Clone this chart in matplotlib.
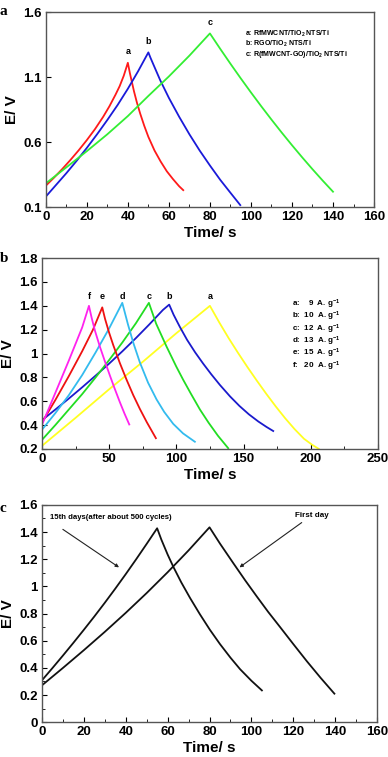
import matplotlib
matplotlib.use("Agg")
import matplotlib.pyplot as plt
from matplotlib.ticker import MultipleLocator

plt.rcParams['font.family'] = ['Liberation Sans', 'DejaVu Sans']
plt.rcParams['font.weight'] = 'bold'
plt.rcParams['mathtext.default'] = 'regular'

# ---- panel a: three electrodes ----
a_red_t = [0, 4, 8, 12, 16, 20, 24, 28, 31, 34, 36, 38, 40,
           41, 42, 43, 44.4, 46, 48, 50, 53, 56, 59, 62, 65, 67]
a_red_e = [0.264, 0.326, 0.392, 0.462, 0.536, 0.615, 0.70, 0.795, 0.875, 0.965, 1.03, 1.11, 1.21,
           1.13, 1.06, 0.99, 0.905, 0.82, 0.725, 0.64, 0.535, 0.45, 0.375, 0.315, 0.26, 0.23]
a_blue_t = [0, 5, 10, 15, 20, 25, 30, 35, 40, 45, 50,
            51, 52.5, 55.8, 60, 65, 70, 75, 80, 85, 90, 94.8]
a_blue_e = [0.18, 0.27, 0.36, 0.455, 0.555, 0.66, 0.77, 0.885, 1.01, 1.145, 1.29,
            1.25, 1.195, 1.075, 0.94, 0.795, 0.66, 0.535, 0.42, 0.31, 0.21, 0.115]
a_green_t = [0, 10, 20, 30, 40, 50, 60, 70, 80,
             85, 90, 95, 100, 105, 110, 115, 120, 125, 130, 135, 140]
a_green_e = [0.282, 0.405, 0.53, 0.66, 0.80, 0.955, 1.105, 1.265, 1.436,
             1.318, 1.203, 1.091, 0.982, 0.876, 0.773, 0.673, 0.576, 0.482, 0.391, 0.303, 0.218]
a_legend = ['a: RfMWCNT/TiO$_2$ NTS/Ti', 'b: RGO/TiO$_2$ NTS/Ti', 'c: R(fMWCNT-GO)/TiO$_2$ NTS/Ti']

# ---- panel b: current densities ----
b_a_t = [0, 25, 50, 75, 100, 125, 132, 139, 146, 153, 160, 167, 174, 181, 188, 195, 201, 206]
b_a_e = [0.225, 0.46, 0.70, 0.93, 1.17, 1.40, 1.26, 1.128, 1.004, 0.885, 0.771, 0.661,
         0.556, 0.457, 0.366, 0.285, 0.235, 0.20]
b_b_t = [0, 10, 20, 30, 40, 50, 60, 70, 80, 90, 94.7,
         98, 102.7, 108, 114, 120, 126, 132.4, 140, 147, 154, 161, 167, 172.1]
b_b_e = [0.44, 0.53, 0.622, 0.717, 0.815, 0.915, 1.02, 1.13, 1.245, 1.365, 1.41,
         1.325, 1.222, 1.115, 1.01, 0.915, 0.826, 0.737, 0.64, 0.56, 0.49, 0.43, 0.385, 0.35]
b_c_t = [0, 10, 20, 30, 40, 50, 60, 70, 79.6, 85, 92.8, 100, 105.1, 111, 117.6, 124, 131, 138.6]
b_c_e = [0.275, 0.40, 0.53, 0.66, 0.80, 0.945, 1.095, 1.255, 1.425,
         1.25, 1.057, 0.89, 0.78, 0.66, 0.53, 0.42, 0.31, 0.206]
b_d_t = [0, 10, 20, 30, 40, 50, 59.8, 64, 68, 72.9, 79, 85.3, 91, 97.7, 105, 113.8]
b_d_e = [0.36, 0.50, 0.65, 0.82, 1.01, 1.21, 1.425, 1.245, 1.09, 0.925, 0.755, 0.615, 0.51, 0.41, 0.33, 0.26]
b_e_t = [0, 10, 20, 30, 38, 44.9, 47, 50, 53.1, 58, 63, 68, 72.9, 78, 84.8]
b_e_e = [0.42, 0.61, 0.81, 1.02, 1.20, 1.387, 1.29, 1.175, 1.07, 0.92, 0.78, 0.65, 0.535, 0.425, 0.29]
b_f_t = [0, 10, 20, 30, 35, 37, 39.5, 43.2, 47, 50.6, 54, 58, 61.5, 65]
b_f_e = [0.40, 0.67, 0.94, 1.22, 1.40, 1.30, 1.19, 1.055, 0.93, 0.815, 0.71, 0.592, 0.495, 0.405]
b_names = ['a', 'b', 'c', 'd', 'e', 'f']
b_peaks = [125, 95, 80, 60, 45, 35]
b_legend = ['a:    9  A. g$^{-1}$', 'b:  10  A. g$^{-1}$', 'c:  12  A. g$^{-1}$',
            'd:  13  A. g$^{-1}$', 'e:  15  A. g$^{-1}$', 'f:   20  A. g$^{-1}$']

# ---- panel c: stability ----
c_late_t = [0, 5, 10, 15, 20, 25, 30, 35, 40, 45, 50, 55,
            57, 60, 62.7, 66.5, 70.7, 75.4, 80.2, 85, 90, 94.6, 100, 105]
c_late_e = [0.308, 0.398, 0.49, 0.584, 0.68, 0.778, 0.879, 0.983, 1.09, 1.20, 1.313, 1.428,
            1.345, 1.235, 1.145, 1.03, 0.915, 0.795, 0.68, 0.575, 0.475, 0.39, 0.305, 0.234]
c_first_t = [0, 10, 20, 30, 40, 50, 60, 70, 80,
             85, 91.4, 97, 102.6, 108, 113.7, 120, 126.5, 133, 139.6]
c_first_e = [0.271, 0.399, 0.53, 0.665, 0.805, 0.951, 1.104, 1.265, 1.435,
             1.315, 1.17, 1.045, 0.925, 0.812, 0.70, 0.575, 0.448, 0.327, 0.21]

fig = plt.figure(figsize=(3.88, 7.57), dpi=100)

def style(ax, xmaj, xmin, ymaj, ymin):
    ax.xaxis.set_major_locator(MultipleLocator(xmaj))
    ax.xaxis.set_minor_locator(MultipleLocator(xmin))
    ax.yaxis.set_major_locator(MultipleLocator(ymaj))
    if ymin:
        ax.yaxis.set_minor_locator(MultipleLocator(ymin))
    ax.tick_params(which='both', direction='in', labelsize=9.5, pad=3)
    ax.tick_params(which='major', length=3.5)
    ax.tick_params(which='minor', length=2)
    for s in ax.spines.values():
        s.set_color('#555555')
        s.set_linewidth(1.0)
    ax.set_xlabel('Time/ s', fontsize=11, fontweight='bold', labelpad=2)
    ax.set_ylabel('E/ V', fontsize=11, fontweight='bold', labelpad=3)

# panel a
ax1 = fig.add_axes([0.118, 0.7265, 0.846, 0.2575])
ax1.plot(a_red_t, a_red_e, color='#ff1a1a', lw=1.3)
ax1.plot(a_blue_t, a_blue_e, color='#1a1ad9', lw=1.3)
ax1.plot(a_green_t, a_green_e, color='#33ee33', lw=1.3)
ax1.set_xlim(0, 160)
ax1.set_ylim(0.1, 1.6)
style(ax1, 20, 10, 0.5, None)
ax1.set_yticks([0.1, 0.6, 1.1, 1.6])
ax1.set_yticklabels(['0.1', '0.6', '1.1', '1.6'])
for lab, t, e in zip(['a', 'b', 'c'], [40, 50, 80], [1.21, 1.29, 1.436]):
    ax1.text(t, e + 0.085, lab, ha='center', va='center', fontsize=6.5)
for i, s in enumerate(a_legend):
    ax1.text(0.607, 0.886 - i * 0.051, s, transform=ax1.transAxes, fontsize=5, va='center')
fig.text(0.0, 0.985, 'a', fontsize=11, fontweight='bold', family='Liberation Serif', va='center')

# panel b
ax2 = fig.add_axes([0.108, 0.407, 0.866, 0.252])
b_series = [(b_a_t, b_a_e, '#ffff22'), (b_b_t, b_b_e, '#1a1acc'), (b_c_t, b_c_e, '#22dd22'),
            (b_d_t, b_d_e, '#33bbee'), (b_e_t, b_e_e, '#ee1111'), (b_f_t, b_f_e, '#ff22ee')]
for (t, e, c) in b_series:
    ax2.plot(t, e, color=c, lw=1.3)
for n, p in zip(b_names, b_peaks):
    ax2.text(p, 1.48, n, ha='center', va='center', fontsize=6.5)
ax2.set_xlim(0, 250)
ax2.set_ylim(0.2, 1.8)
style(ax2, 50, 25, 0.2, None)
ax2.set_yticks([0.2, 0.4, 0.6, 0.8, 1.0, 1.2, 1.4, 1.6, 1.8])
ax2.set_yticklabels(['0.2', '0.4', '0.6', '0.8', '1', '1.2', '1.4', '1.6', '1.8'])
for i, s in enumerate(b_legend):
    ax2.text(0.743, 0.757 - i * 0.0645, s, transform=ax2.transAxes, fontsize=5.8, va='center')
fig.text(0.0, 0.658, 'b', fontsize=11, fontweight='bold', family='Liberation Serif', va='center')

# panel c
ax3 = fig.add_axes([0.108, 0.046, 0.864, 0.287])
ax3.plot(c_late_t, c_late_e, color='#111111', lw=1.3)
ax3.plot(c_first_t, c_first_e, color='#111111', lw=1.3)
ax3.set_xlim(0, 160)
ax3.set_ylim(0, 1.6)
style(ax3, 20, 10, 0.2, 0.1)
ax3.set_yticks([0, 0.2, 0.4, 0.6, 0.8, 1.0, 1.2, 1.4, 1.6])
ax3.set_yticklabels(['0', '0.2', '0.4', '0.6', '0.8', '1', '1.2', '1.4', '1.6'])
ax3.text(3.7, 1.505, '15th days(after about 500 cycles)', fontsize=5.6, va='center')
ax3.text(121, 1.525, 'First day', fontsize=5.8, va='center')
ax3.annotate('', xy=(36.8, 1.14), xytext=(10, 1.42),
             arrowprops=dict(arrowstyle='-|>', color='#222222', lw=0.8, shrinkA=0, shrinkB=0,
                             mutation_scale=5))
ax3.annotate('', xy=(94.3, 1.14), xytext=(124, 1.47),
             arrowprops=dict(arrowstyle='-|>', color='#222222', lw=0.8, shrinkA=0, shrinkB=0,
                             mutation_scale=5))
fig.text(0.0, 0.328, 'c', fontsize=11, fontweight='bold', family='Liberation Serif', va='center')

fig.savefig('out.png', dpi=100)
